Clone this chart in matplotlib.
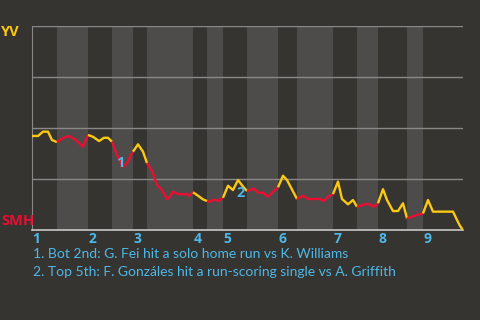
import matplotlib
matplotlib.use("Agg")
import matplotlib.pyplot as plt

# game progress (roughly plate appearances) and YV win probability
prog = [0, 1.2, 2.2, 3.2, 4.0, 5.0, 6.2, 7.4, 8.8, 10.2, 11.2, 12.2, 13.4, 14.4, 15.2,
        16.0, 17.0, 18.2, 19.0, 20.2, 21.2, 22.2, 23.0, 24.0, 25.0, 26.0, 27.0, 27.4,
        28.2, 29.2, 31.0, 31.4, 32.2, 33.2, 34.2, 35.0, 35.4, 36.4, 37.2, 38.2, 39.2,
        40.2, 41.2, 42.2, 43.0, 44.4, 45.2, 46.2, 47.2, 48.2, 49.2, 50.2, 51.0, 53.0,
        54.2, 55.2, 57.6, 58.4, 59.2, 60.2, 61.2, 62.0, 63.2, 64.2, 65.0, 66.2, 66.8,
        67.4, 68.4, 69.2, 70.2, 71.0, 72.2, 73.2, 74.2, 75.0, 76.0, 77.0, 78.2, 79.2,
        80.2, 84.2, 85.0, 85.6, 86.2]
wp = [0.461, 0.461, 0.482, 0.482, 0.441, 0.431, 0.451, 0.461, 0.441, 0.408, 0.466,
      0.457, 0.436, 0.452, 0.452, 0.433, 0.368, 0.310, 0.328, 0.384, 0.420, 0.384,
      0.328, 0.291, 0.221, 0.196, 0.152, 0.158, 0.188, 0.176, 0.176, 0.167, 0.185,
      0.168, 0.150, 0.142, 0.137, 0.150, 0.142, 0.158, 0.217, 0.196, 0.245, 0.213,
      0.191, 0.203, 0.183, 0.183, 0.163, 0.188, 0.209, 0.266, 0.245, 0.152, 0.168,
      0.152, 0.152, 0.142, 0.163, 0.176, 0.237, 0.152, 0.126, 0.147, 0.114, 0.123,
      0.127, 0.127, 0.114, 0.131, 0.200, 0.147, 0.093, 0.093, 0.131, 0.057, 0.065,
      0.074, 0.081, 0.147, 0.090, 0.090, 0.049, 0.020, 0.0]

# half-inning boundaries: top1, bot1, top2, bot2, ...
halves = [0, 5.0, 11.2, 16.0, 20.2, 23.0, 32.2, 35.0, 38.2, 43.0, 49.2, 53.0,
          60.2, 65.0, 69.2, 75.0, 78.2, 86.2]
innings = ["1", "2", "3", "4", "5", "6", "7", "8", "9"]

events = [(17.0, 0.33, "1"), (41.2, 0.18, "2")]
notes = ["1. Bot 2nd: G. Fei hit a solo home run vs K. Williams",
         "2. Top 5th: F. Gonzáles hit a run-scoring single vs A. Griffith"]

bg = "#363431"
band = "#4d4c4a"
yellow = "#fcc812"
red = "#ec0d32"
blue = "#4db8e6"
boldfont = "Open Sans"

fig = plt.figure(figsize=(4.8, 3.2), dpi=100)
fig.patch.set_facecolor(bg)
ax = fig.add_axes([32 / 480, 90 / 320, 431 / 480, 204 / 320])
ax.set_facecolor(bg)
ax.set_xlim(0, 86.2)
ax.set_ylim(0, 1)

# shade bottom halves
for i in range(1, len(halves) - 1, 2):
    ax.axvspan(halves[i], halves[i + 1], color=band, lw=0, zorder=0)

for g in [0.25, 0.5, 0.75, 1.0]:
    ax.axhline(g, color="#8a8886", lw=1, zorder=1)

# line, colored by half inning
for i in range(len(halves) - 1):
    a, b = halves[i], halves[i + 1]
    xs = [x for x in prog if a - 1e-6 <= x <= b + 1e-6]
    ys = [wp[prog.index(x)] for x in xs]
    ax.plot(xs, ys, color=yellow if i % 2 == 0 else red, lw=1.7,
            solid_capstyle="butt", zorder=3)

for x, y, lab in events:
    ax.text(x + 0.6, y, lab, color=blue, fontsize=10.5, fontweight="bold",
            family=boldfont, ha="center", va="center", zorder=4)

for s in ["top", "right"]:
    ax.spines[s].set_visible(False)
ax.spines["left"].set_color("#8a8886")
ax.spines["bottom"].set_color("#c8c8c8")
ax.spines["bottom"].set_linewidth(1.2)
ax.set_xticks([])
ax.set_yticks([])

for k, lab in enumerate(innings):
    ax.text(halves[2 * k] + 0.1, -0.01, lab, color=blue, fontsize=10,
            fontweight="bold", family=boldfont, ha="left", va="top")

fig.text(1 / 480, 1 - 32 / 320, "YV", color=yellow, fontsize=10.5,
         fontweight="bold", family=boldfont, ha="left", va="center")
fig.text(1 / 480, 1 - 221 / 320, "SMH", color=red, fontsize=10.5,
         fontweight="bold", family=boldfont, ha="left", va="center")

for k, s in enumerate(notes):
    fig.text(33 / 480, 1 - (254 + k * 18) / 320, s, color=blue, fontsize=10,
             family="Lato", ha="left", va="center")

fig.savefig("out.png", dpi=100, facecolor=bg)
